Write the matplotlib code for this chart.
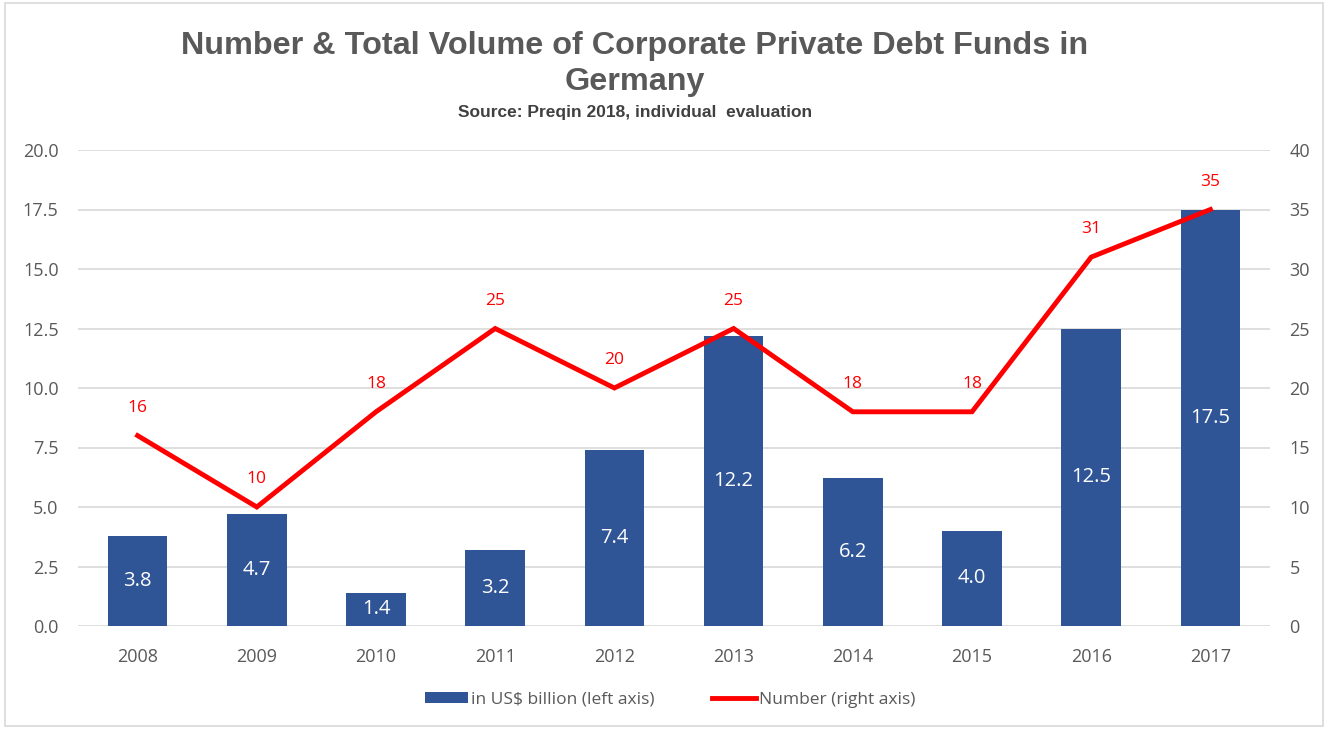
import matplotlib
matplotlib.use("Agg")
import matplotlib.pyplot as plt
from matplotlib.patches import Rectangle

years = ["2008", "2009", "2010", "2011", "2012", "2013", "2014", "2015", "2016", "2017"]
volume = [3.8, 4.7, 1.4, 3.2, 7.4, 12.2, 6.2, 4.0, 12.5, 17.5]
number = [16, 10, 18, 25, 20, 25, 18, 18, 31, 35]
left_ticks = [0, 2.5, 5, 7.5, 10, 12.5, 15, 17.5, 20]
right_ticks = [0, 5, 10, 15, 20, 25, 30, 35, 40]

W, H = 1326, 729
fig = plt.figure(figsize=(W / 100, H / 100), dpi=100)
fig.patch.set_facecolor("white")

ax = fig.add_axes([78 / W, 1 - 626 / H, (1270 - 78) / W, (626 - 150) / H])
ax2 = ax.twinx()

x = list(range(len(years)))
bar_color = "#2F5597"
bars = ax.bar(x, volume, width=0.5, color=bar_color, zorder=2, label="in US$ billion (left axis)")
for xi, v in zip(x, volume):
    ax.text(xi, v / 2, f"{v:.1f}", ha="center", va="center", color="white",
            fontsize=14.5, family="Open Sans", zorder=3)

ax.set_xlim(-0.5, len(years) - 0.5)
ax.set_ylim(0, 20)
ax.set_yticks(left_ticks)
ax.set_yticklabels([f"{t:.1f}" for t in left_ticks])
ax.set_xticks(x)
ax.set_xticklabels(years)
ax.grid(axis="y", color="#D9D9D9", linewidth=1.2, zorder=0)
ax.set_axisbelow(True)
for s in ax.spines.values():
    s.set_visible(False)
ax.tick_params(axis="both", length=0, colors="#595959", labelsize=13)
ax.tick_params(axis="y", pad=14)
ax.tick_params(axis="x", pad=16)
for lab in ax.get_xticklabels() + ax.get_yticklabels():
    lab.set_family("Open Sans")

line, = ax2.plot(x, number, color="#FF0000", linewidth=3.5, zorder=4, label="Number (right axis)",
                 solid_joinstyle="miter")
for xi, n in zip(x, number):
    ax2.annotate(str(n), (xi, n), xytext=(0, 20), textcoords="offset points",
                 ha="center", va="center", color="#FF0000", fontsize=12.5, family="Open Sans")
ax2.set_ylim(0, 40)
ax2.set_yticks(right_ticks)
for s in ax2.spines.values():
    s.set_visible(False)
ax2.tick_params(axis="y", length=0, colors="#595959", labelsize=13, pad=14)
for lab in ax2.get_yticklabels():
    lab.set_family("Open Sans")

tx = 635 / W
fig.text(tx, 1 - 46 / H, "Number & Total Volume of Corporate Private Debt Funds in",
         ha="center", va="center", fontsize=23.3, fontweight="bold", color="#595959",
         family="Liberation Sans")
fig.text(tx, 1 - 82 / H, "Germany", ha="center", va="center", fontsize=23.3,
         fontweight="bold", color="#595959", family="Liberation Sans")
fig.text(tx, 1 - 113 / H, "Source: Preqin 2018, individual  evaluation", ha="center",
         va="center", fontsize=12.5, fontweight="bold", color="#404040", family="Liberation Sans")

leg = fig.legend(handles=[bars, line], labels=["in US$ billion (left axis)", "Number (right axis)"],
                 loc="center", bbox_to_anchor=(670 / W, 1 - 700 / H), ncol=2, frameon=False,
                 prop={"family": "Open Sans", "size": 12.5}, handlelength=2.5,
                 handleheight=0.6, handletextpad=0.2, columnspacing=3.3)
for t in leg.get_texts():
    t.set_color("#595959")

fig.patches.append(Rectangle((5 / W, 3 / H), (1323 - 5) / W, (H - 6) / H,
                             transform=fig.transFigure, fill=False, edgecolor="#D9D9D9",
                             linewidth=1.2))

fig.savefig("out.png", dpi=100, facecolor="white")
